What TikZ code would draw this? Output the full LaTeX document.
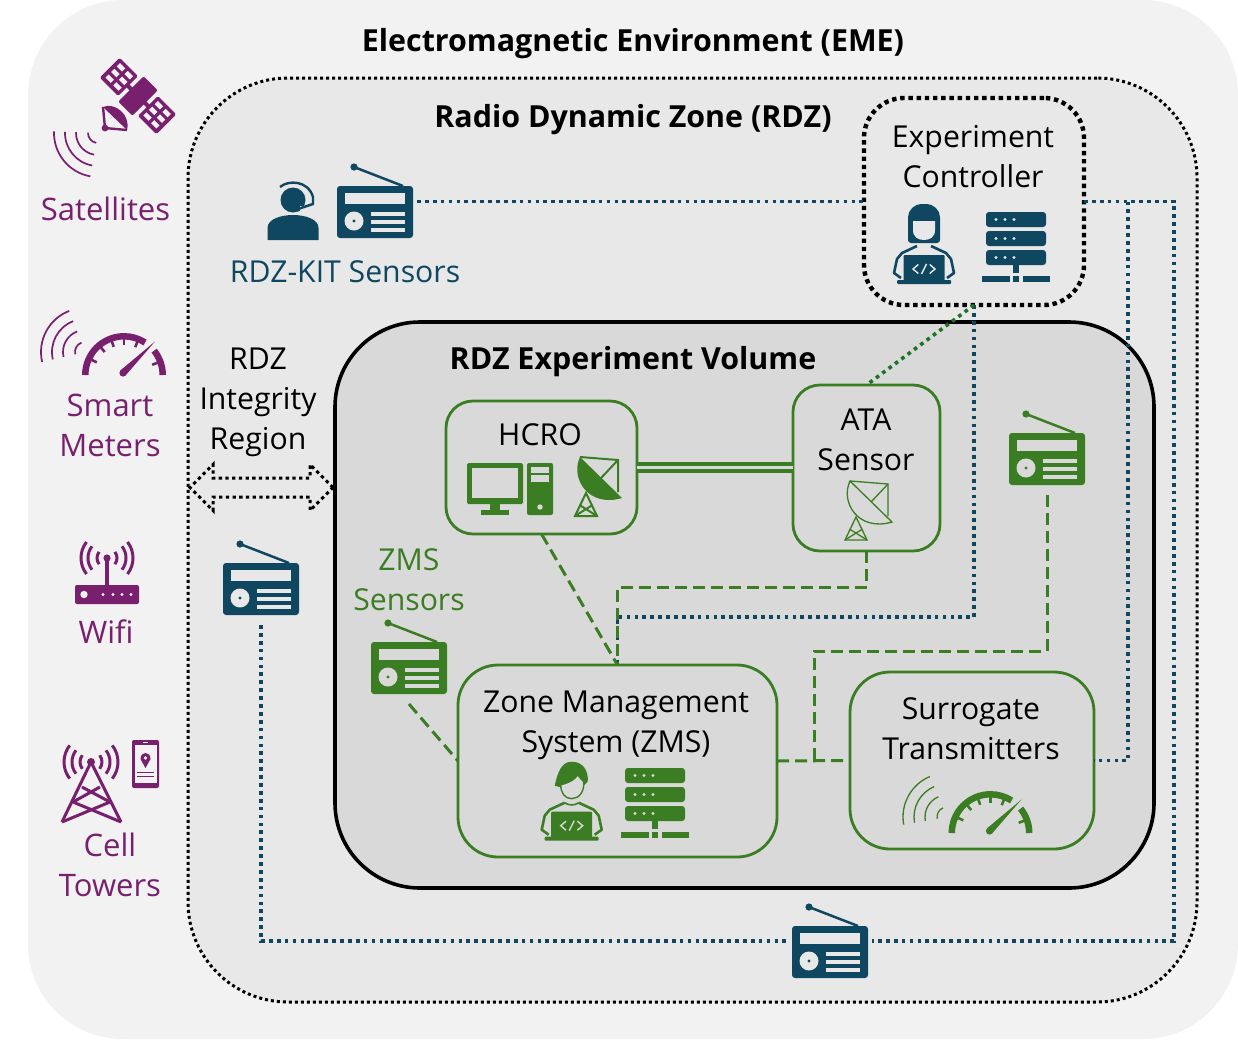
\documentclass[tikz,border=0pt]{standalone}
\usepackage{fontspec}
\setmainfont{Open Sans}
\usepackage{xcolor}
\usetikzlibrary{shapes.arrows}
\definecolor{emecol}{HTML}{F2F2F2}
\definecolor{rdzcol}{HTML}{E8E8E8}
\definecolor{volcol}{HTML}{D9D9D9}
\definecolor{navy}{HTML}{0F4761}
\definecolor{leaf}{HTML}{3B7D23}
\definecolor{deepleaf}{HTML}{1E7326}
\definecolor{plum}{HTML}{78206E}
\newcommand{\coderbody}[1]{
	\draw[line width=2.6pt,line join=round] (-7,1) -- (-22,8) -- (-27,14) -- (-30,28) -- (-23,33);
	\draw[line width=2.6pt,line join=round] (7,1) -- (22,8) -- (27,14) -- (30,28) -- (23,33);
	\fill[rounded corners=1pt] (-20.5,10) rectangle (20.5,36);
	\fill[rounded corners=1pt] (-27,35) rectangle (27,39);
	\draw[#1,line width=1.4pt] (-5.7,19.5) -- (-11,24) -- (-5.7,28.5);
	\draw[#1,line width=1.4pt] (5.7,19.5) -- (11,24) -- (5.7,28.5);
	\draw[#1,line width=1.4pt] (2.5,19) -- (-2.5,29);
}
\newcommand{\signalarcs}[3]{
	\foreach \rr in {#1,#2,#3} {
		\draw (-38:\rr) arc (-38:38:\rr);
		\draw (142:\rr) arc (142:218:\rr);
	}
}
\tikzset{
	x=1pt,y=-1pt,
	lbl/.style={align=center,inner sep=0pt,font=\fontsize{30.2}{40}\selectfont},
	plumlbl/.style={lbl,text=plum,font=\fontsize{31}{40}\selectfont},
	head/.style={align=center,inner sep=0pt,font=\fontsize{30.4}{40}\selectfont\bfseries},
	box/.style={draw,inner sep=0pt,outer sep=0pt},
	greenbox/.style={box,draw=leaf,line width=2.8pt},
	iconbox/.style={inner sep=0pt,outer sep=0pt,minimum width=84pt,minimum height=72pt},
	navydot/.style={navy,line width=3.6pt,dash pattern=on 3.7pt off 4.2pt},
	greendash/.style={leaf,line width=3pt,dash pattern=on 12pt off 6pt},
	pics/radio/.style={code={
		\fill[rounded corners=3pt] (-38,-26) rectangle (38,26);
		\draw[line width=2.5pt] (-21,-45) -- (28,-26);
		\fill (-21,-45) circle (3.6pt);
		\fill[#1] (-30,-19) rectangle (30,-8);
		\fill[#1] (-21,9) circle (9.5pt);
		\fill (-21,9) circle (1.7pt);
		\foreach \yy in {0,7.5,16} {
			\fill[#1] (-4,\yy) rectangle (30,\yy+4);
		}
	}},
	pics/server/.style={code={
		\foreach \yy in {-35,-16,3} {
			\fill[rounded corners=3pt] (-30,\yy) rectangle (30,\yy+15);
			\foreach \xx in {-20,-11,-2} {
				\fill[#1] (\xx,\yy+7.5) circle (1.7pt);
			}
		}
		\fill (-3,18) rectangle (3,26);
		\fill (-34,29) rectangle (-6,35);
		\fill (-3,29) rectangle (3,35);
		\fill (7,29) rectangle (34,35);
	}},
	pics/womancoder/.style={code={
		%hair
		\fill[rounded corners=3pt] (-16,-2) -- (-16,-25) .. controls (-16,-35) and (-9,-41) .. (0,-41) .. controls (9,-41) and (16,-35) .. (16,-25) -- (16,-2) -- cycle;
		%face
		\fill[#1] (-11,-24) -- (11,-24) -- (11,-15) .. controls (11,-8) and (6,-5) .. (0,-5) .. controls (-6,-5) and (-11,-8) .. (-11,-15) -- cycle;
		\fill[#1] (-8,-1) .. controls (-3,2) and (3,2) .. (8,-1) -- (9,3) .. controls (3,6) and (-3,6) .. (-9,3) -- cycle;
		\coderbody{#1}
	}},
	pics/mancoder/.style={code={
		%hair
		\fill (-17,-16) .. controls (-14,-30) and (-10,-40) .. (0,-40) .. controls (12,-40) and (17,-30) .. (16,-20) -- (6,-10) -- cycle;
		%face
		\filldraw[fill=#1,line width=1.4pt] (-11,-17) .. controls (-2,-19) and (4,-23) .. (6,-27) .. controls (8,-24) and (10,-22) .. (12,-20) .. controls (13,-10) and (7,-3) .. (0,-3) .. controls (-7,-3) and (-11,-9) .. cycle;
		\draw[line width=1.6pt] (-7,1) .. controls (-3,4) and (3,4) .. (7,1);
		\coderbody{#1}
	}},
	pics/agent/.style={code={
		\fill (0,0) circle (12.5pt);
		\fill[#1] (7,6) rectangle (14,14);
		\fill (-25.5,40) -- (-25.5,28) .. controls (-25.5,19) and (-12,15) .. (0,15) .. controls (12,15) and (25.5,19) .. (25.5,28) -- (25.5,40) -- cycle;
		%headset
		\draw[line width=2.4pt] (-13,-13) .. controls (-5,-20) and (15,-20) .. (20,-3) -- (20,4) -- (5,9);
		\fill (5,9) circle (2.4pt);
	}},
	pics/waves/.style n args={2}{code={
		\foreach \rr in {44,33,22,10} {
			\draw (#1:\rr) arc (#1:#2:\rr);
		}
	}},
	pics/gauge/.style={code={
		\draw[line width=6.5pt] (180:38.7) arc (180:303:38.7);
		\draw[line width=6.5pt] (321:38.7) arc (321:360:38.7);
		\foreach \aa in {205,230,250,270,292,340} {
			\draw[line width=2.6pt] (\aa:36) -- (\aa:30);
		}
		%needle
		\fill (-1,-2) circle (3.6pt);
		\fill (1.6,0.4) -- (31,-33.5) -- (-3.6,-4.6) -- cycle;
	}},
	pics/satellite/.style={code={
		\begin{scope}[rotate=-45]
			\fill (-15,-2) rectangle (15,2);
			\fill[rounded corners=2pt] (-10,-18) rectangle (10,18);
			\foreach \sx in {-1,1} {
				\fill[rounded corners=1.5pt] (\sx*14,-14) rectangle (\sx*40,14);
				\foreach \ii in {0,1} {
					\foreach \jj in {0,1,2} {
						\fill[#1] (\sx*17.5+\sx*\ii*11,-10.5+\jj*8) rectangle (\sx*25+\sx*\ii*11,-6+\jj*8);
					}
				}
			}
		\end{scope}
		%dish
		\fill (-35,11) .. controls (-24,6) and (-7,18) .. (-11,34) -- cycle;
		\draw[line width=2.4pt] (-35,11) -- (-33,32) -- (-11,34);
		\fill (-33,32) circle (3.4pt);
	}},
	pics/dish/.style={code={
		\path[#1] (-20,-33) .. controls (-30,-12) and (-12,18) .. (22,8) -- cycle;
		\draw (-20,-33) -- (18,-30) -- (18,2);
		\draw (18,-30) -- (1,-12);
		\draw (-14,3) -- (-25,26) -- (-3,26) -- cycle;
		\draw (-20.5,15) -- (-3,26);
		\draw (-7.5,15) -- (-25,26);
	}},
	pics/pcset/.style={code={
		%monitor
		\fill[rounded corners=1.5pt] (0,0) rectangle (56,41);
		\fill[#1] (5,4.5) rectangle (51,35);
		\fill (23,41) rectangle (33,47);
		\fill (14,47) rectangle (42,52);
		%case
		\fill[rounded corners=2pt] (60,0) rectangle (86,52);
		\fill[#1] (64,4) rectangle (82,10);
		\fill[#1] (64,12) rectangle (82,19);
		\fill[#1] (73,44) circle (2.7pt);
	}},
	pics/router/.style={code={
		\fill (-1.7,0) rectangle (1.7,27);
		\fill (0,0) circle (3.6pt);
		\fill[rounded corners=2pt] (-32,27) rectangle (32,46);
		\fill[#1] (-23,36.5) circle (3.7pt);
		\foreach \xx in {-4,6,15,24} {
			\fill[#1] (\xx,36.5) circle (1.7pt);
		}
		\begin{scope}[line width=3pt]
			\signalarcs{10}{19}{26}
		\end{scope}
	}},
	pics/celltower/.style={code={
		\begin{scope}[line width=3pt,line join=round]
			\draw (0,0) -- (-29,60);
			\draw (0,0) -- (30,60);
			\draw (-29,60) -- (19,40) -- (-9,25);
			\draw (30,60) -- (-18,40) -- (9,25);
			\signalarcs{11}{19}{27}
		\end{scope}
		\fill (0,0) circle (4pt);
	}},
	pics/phone/.style={code={
		\fill[rounded corners=2pt] (0,0) rectangle (27,48);
		\fill[#1] (2.5,5) rectangle (24.5,43);
		\fill[#1] (11,2) rectangle (16,3.2);
		\fill (8.5,19) .. controls (8.5,11) and (18.5,11) .. (18.5,19) -- (13.5,28) -- cycle;
		\fill[#1] (13.5,18) circle (1.8pt);
		\fill (5,31.5) rectangle (22,32.5);
		\fill (5,35.5) rectangle (22,36.5);
	}},
}
\begin{document}
\begin{tikzpicture}
	\useasboundingbox (0,0) rectangle (1238,1039);
	%regions
	\node[box,draw=none,fill=emecol,rounded corners=95pt,minimum width=1210pt,minimum height=1039pt] (eme) at (633,519.5) {};
	\node[box,fill=rdzcol,rounded corners=100pt,line width=3pt,dash pattern=on 3pt off 3pt,minimum width=1009pt,minimum height=924pt] (rdz) at (692.5,540) {};
	\node[box,fill=volcol,rounded corners=85pt,line width=3.6pt,minimum width=819pt,minimum height=566pt] (volume) at (744.5,605) {};
	\node[box,rounded corners=40pt,line width=4.4pt,dash pattern=on 4.4pt off 3.8pt,minimum width=220pt,minimum height=207pt] (controller) at (974,201.5) {};
	\node[greenbox,rounded corners=27pt,minimum width=191pt,minimum height=133pt] (hcro) at (541.5,467.5) {};
	\node[greenbox,rounded corners=27pt,minimum width=147pt,minimum height=166pt] (ata) at (866.5,468) {};
	\node[greenbox,rounded corners=40pt,minimum width=319pt,minimum height=192pt] (zms) at (617.5,761) {};
	\node[greenbox,rounded corners=40pt,minimum width=244pt,minimum height=177pt] (surrogate) at (972,760.5) {};
	%titles
	\node[head] (emeTitle) at (633,44) {Electromagnetic Environment (EME)};
	\node[head] (rdzTitle) at (633,120) {Radio Dynamic Zone (RDZ)};
	\node[head] (volumeTitle) at (633,362) {RDZ Experiment Volume};
	%labels
	\node[lbl] (controllerText) at (973,157) {Experiment\\Controller};
	\node[lbl,text=navy] (kitText) at (345,271.5) {RDZ-KIT Sensors};
	\node[lbl] (integrityText) at (258,402) {RDZ\\Integrity\\Region};
	\node[lbl,text=leaf] (zmsSensorText) at (409,580) {ZMS\\Sensors};
	\node[lbl] (hcroText) at (540,435) {HCRO};
	\node[lbl] (ataText) at (866,440) {ATA\\Sensor};
	\node[lbl] (zmsText) at (616,725) {Zone Management\\System (ZMS)};
	\node[lbl] (surrogateText) at (971,729) {Surrogate\\Transmitters};
	\node[plumlbl] (satText) at (105.5,208.5) {Satellites};
	\node[plumlbl] (meterText) at (110,425) {Smart\\Meters};
	\node[plumlbl] (wifiText) at (106,632) {Wifi};
	\node[plumlbl] (cellText) at (110,865) {Cell\\Towers};
	%radios
	\node[iconbox] (radioKit) at (375,212) {};
	\node[iconbox] (radioLeft) at (261,589) {};
	\node[iconbox] (radioBottom) at (830,952) {};
	\node[iconbox] (radioZms) at (409,668) {};
	\node[iconbox] (radioSurrogate) at (1047,459) {};
	\pic[navy] at (radioKit) {radio=rdzcol};
	\pic[navy] at (radioLeft) {radio=rdzcol};
	\pic[navy] at (radioBottom) {radio=rdzcol};
	\pic[leaf] at (radioZms) {radio=volcol};
	\pic[leaf] at (radioSurrogate) {radio=volcol};
	%double arrow
	\node[double arrow,draw,line width=3pt,dash pattern=on 3.3pt off 3.4pt,inner xsep=0pt,inner ysep=3.5pt,minimum width=46pt,minimum height=143pt] (integrity) at (261.5,487.5) {};
	%turning points
	\coordinate (trunk) at (1128,201.5);
	\coordinate (busturn) at (1174,941);
	\coordinate (ataturn) at (617.5,587);
	\coordinate (ctrlturn) at (617.5,617);
	\coordinate (radioturn) at (814,651);
	\coordinate (zmstie) at (814,765);
	%navy links
	\draw[navydot] (radioKit.east |- controller.west) -- (controller.west);
	\draw[navydot] (controller.east) -| (busturn) -- (radioBottom.east |- busturn);
	\draw[navydot] (trunk) |- (surrogate.east);
	\draw[navydot] (radioLeft.south) |- (radioBottom.west |- busturn);
	\draw[navydot] (controller.south) |- (ctrlturn) -- (zms.north);
	%green links
	\draw[deepleaf,line width=3.6pt,dash pattern=on 3.7pt off 4.2pt] (controller.south) -- (ata.north);
	\draw[leaf,line width=4pt,double=volcol,double distance=3.5pt] (hcro.east) -- (hcro.east -| ata.west);
	\draw[greendash] (hcro.south) -- (zms.north);
	\draw[greendash] (ata.south) |- (ataturn) -- (zms.north);
	\draw[greendash] (zms.east) -- (surrogate.west);
	\draw[greendash] (radioSurrogate.south) |- (radioturn) -- (zmstie);
	\draw[greendash] (radioZms.south) -- (zms.west);
	%icons
	\pic[navy] at (293,200) {agent=rdzcol};
	\pic[navy] at (924,245) {womancoder=rdzcol};
	\pic[navy] at (1016,247) {server=rdzcol};
	\pic[leaf] at (571.7,801.7) {mancoder=volcol};
	\pic[leaf] at (655,803) {server=volcol};
	\pic[leaf] at (467,463) {pcset=volcol};
	\pic[leaf,line width=2pt] at (600,490) {dish=fill};
	\pic[leaf,line width=1.3pt] at (870,514) {dish=draw};
	\pic[leaf,line width=1.3pt] at (947,817) {waves={170}{247}};
	\pic[leaf] at (990.5,833) {gauge};
	\pic[plum,line width=1.7pt] at (98,133) {waves={100}{182}};
	\pic[plum] at (138,96) {satellite=emecol};
	\pic[plum,line width=1.7pt] at (85,352) {waves={167}{249}};
	\pic[plum] at (124,375) {gauge};
	\pic[plum] at (107,558) {router=emecol};
	\pic[plum] at (91,762) {celltower};
	\pic[plum] at (132,740) {phone=emecol};
\end{tikzpicture}
\end{document}
